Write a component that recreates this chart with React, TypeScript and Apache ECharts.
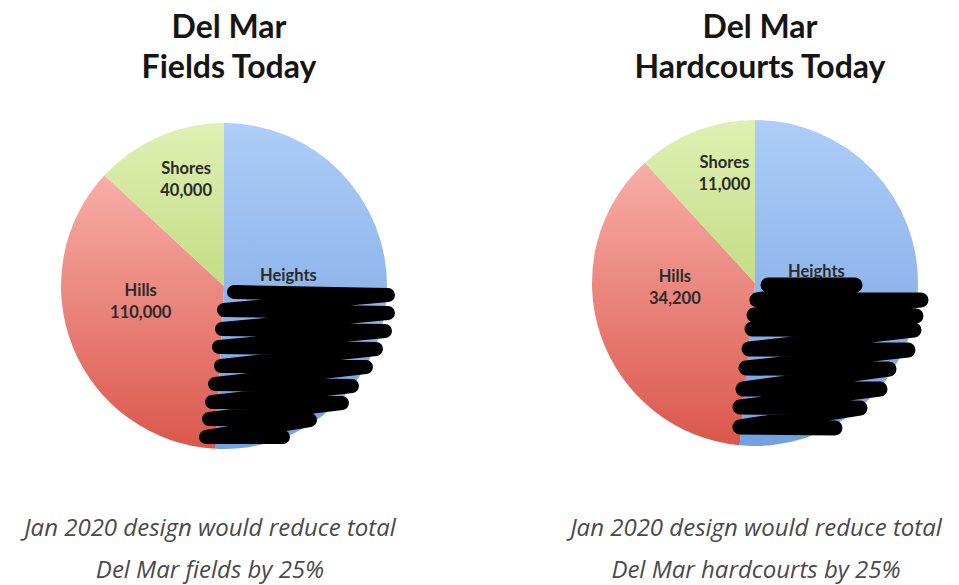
import React, { useEffect, useRef } from "react";
import * as echarts from "echarts";

const categories = ["Heights", "Hills", "Shores"];
const fieldsValues = [155000, 110000, 40000];
const hardcourtsValues = [48000, 34200, 11000];
const chartTitles = ["Del Mar\nFields Today", "Del Mar\nHardcourts Today"];
const captions = [
  "Jan 2020 design would reduce total\nDel Mar fields by 25%",
  "Jan 2020 design would reduce total\nDel Mar hardcourts by 25%",
];

const sliceColors = [
  ["#AECDF8", "#72A0E0"],
  ["#F8AEA8", "#DA574B"],
  ["#DFF0B3", "#C3DD85"],
];

const grad = (c: string[]) => ({
  type: "linear",
  x: 0,
  y: 0,
  x2: 0,
  y2: 1,
  colorStops: [
    { offset: 0, color: c[0] },
    { offset: 1, color: c[1] },
  ],
});

const leftScribble = [
  [234, 292], [388, 295], [224, 310], [388, 313], [222, 329], [385, 331],
  [219, 347], [376, 349], [221, 366], [366, 367], [215, 384], [352, 386],
  [212, 402], [342, 403], [209, 419], [310, 420], [206, 437], [283, 437],
];
const rightScribble = [
  [768, 285], [855, 285], [757, 300], [921, 300], [754, 315], [916, 316],
  [752, 329], [914, 330], [749, 349], [908, 350], [746, 368], [889, 369],
  [743, 389], [880, 389], [740, 407], [860, 408], [740, 427], [835, 428],
];

const labelOffsetsLeft = [[-20, -2], [-5, -17], [-4, -30]];
const labelOffsetsRight = [[-23, -5], [0, -23], [0, -31]];

export default function App() {
  const ref = useRef<HTMLDivElement>(null);
  useEffect(() => {
    if (!ref.current) return;
    const chart = echarts.init(ref.current, undefined, { renderer: "svg" });
    const makeSeries = (values: number[], cx: number, cy: number, offs: number[][]) => ({
      type: "pie",
      center: [cx, cy],
      radius: 163,
      startAngle: 90,
      clockwise: true,
      silent: true,
      data: categories.map((name, i) => ({
        name,
        value: values[i],
        itemStyle: { color: grad(sliceColors[i]) },
      })),
      label: {
        show: true,
        position: "inside",
        formatter: (p: any) => `${p.name}\n${Number(p.value).toLocaleString("en-US")}`,
        fontFamily: "Lato",
        fontWeight: "bold",
        fontSize: 16.5,
        lineHeight: 22,
        color: "#2a2a2a",
      },
      labelLayout: (p: any) => ({ dx: offs[p.dataIndex][0], dy: offs[p.dataIndex][1] }),
      labelLine: { show: false },
    });
    const scribble = (pts: number[][], w: number) => ({
      type: "polyline",
      shape: { points: pts },
      style: { stroke: "#000", lineWidth: w, fill: null, lineCap: "round", lineJoin: "round" },
      z: 100,
    });
    const titleStyle = { fontFamily: "Lato", fontWeight: "bold", fontSize: 32, lineHeight: 40, color: "#151515" };
    const captionStyle = {
      textAlign: "center",
      textVerticalAlign: "middle",
      fontFamily: "Open Sans",
      fontStyle: "italic",
      fontSize: 24,
      lineHeight: 42,
      fill: "#4a4a4a",
    };
    chart.setOption({
      animation: false,
      backgroundColor: "#ffffff",
      title: [
        { text: chartTitles[0], left: 224, top: 0, textAlign: "center", textStyle: titleStyle },
        { text: chartTitles[1], left: 755, top: 0, textAlign: "center", textStyle: titleStyle },
      ],
      series: [
        makeSeries(fieldsValues, 224, 286, labelOffsetsLeft),
        makeSeries(hardcourtsValues, 755, 283, labelOffsetsRight),
      ],
      graphic: [
        scribble(leftScribble, 14),
        scribble(rightScribble, 15),
        { type: "text", x: 210, y: 547, style: { text: captions[0], ...captionStyle } },
        { type: "text", x: 756, y: 547, style: { text: captions[1], ...captionStyle } },
      ],
    });
    return () => chart.dispose();
  }, []);
  return (
    <div
      ref={ref}
      style={{ position: "fixed", left: 0, top: 0, width: 959, height: 585 }}
    />
  );
}
